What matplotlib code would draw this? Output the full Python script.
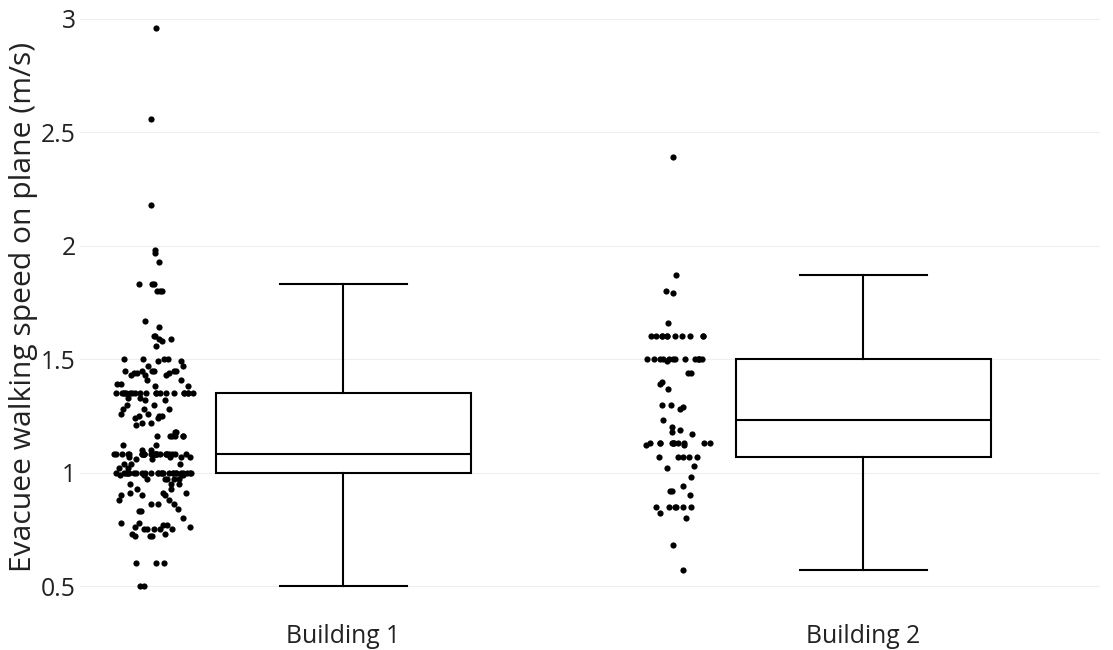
import numpy as np
import matplotlib.pyplot as plt

plt.rcParams['font.family'] = ['Open Sans', 'DejaVu Sans']

buildings = ['Building 1', 'Building 2']

# walking speeds (m/s) and how many evacuees recorded each speed
b1_speeds = [2.96, 2.56, 2.18, 1.98, 1.97, 1.93, 1.83, 1.80,
             1.67, 1.64, 1.60, 1.59, 1.58, 1.56, 1.50, 1.49, 1.47,
             1.45, 1.44, 1.43, 1.41, 1.39, 1.38, 1.35,
             1.33, 1.32, 1.30, 1.28, 1.26, 1.25, 1.24, 1.22, 1.21,
             1.18, 1.16, 1.12, 1.10, 1.08, 1.07, 1.06, 1.04, 1.02, 1.00,
             0.99, 0.97, 0.95, 0.93, 0.91, 0.90, 0.88, 0.86, 0.84, 0.83,
             0.80, 0.78, 0.77, 0.76, 0.75, 0.73, 0.72, 0.60, 0.50]
b1_counts = [1, 1, 1, 1, 1, 1, 3, 3,
             1, 1, 2, 2, 1, 1, 4, 2, 2,
             6, 3, 3, 2, 2, 2, 20,
             2, 2, 2, 3, 2, 3, 2, 2, 1,
             2, 6, 2, 2, 26, 4, 2, 3, 2, 26,
             4, 5, 3, 2, 3, 3, 2, 3, 1, 2,
             1, 2, 2, 2, 5, 2, 3, 3, 2]

b2_speeds = [2.39, 1.87, 1.80, 1.79, 1.66, 1.60, 1.50, 1.49, 1.44, 1.40,
             1.39, 1.37, 1.30, 1.29, 1.28, 1.23, 1.20, 1.19, 1.18, 1.17,
             1.13, 1.12, 1.07, 1.03, 1.02, 0.98, 0.94, 0.92, 0.90, 0.85,
             0.82, 0.80, 0.68, 0.57]
b2_counts = [1, 1, 1, 1, 1, 11, 13, 1, 2, 1,
             1, 1, 2, 1, 1, 1, 1, 1, 1, 1,
             11, 2, 5, 1, 1, 1, 1, 2, 1, 6,
             1, 1, 1, 1]

yticks = [0.5, 1, 1.5, 2, 2.5, 3]
ytick_labels = ['0.5', '1', '1.5', '2', '2.5', '3']

data = [np.repeat(b1_speeds, b1_counts), np.repeat(b2_speeds, b2_counts)]


def box_stats(v, label):
    q1, med, q3 = np.percentile(v, [25, 50, 75])
    iqr = q3 - q1
    hi = v[v <= q3 + 1.5 * iqr].max()
    lo = v[v >= q1 - 1.5 * iqr].min()
    return dict(label=label, q1=q1, med=med, q3=q3, whislo=lo, whishi=hi, fliers=[])


def jitter(v, spread, seed):
    # wider scatter where points are dense, narrow where they're sparse
    order = np.argsort(v)
    s = v[order]
    n = len(s)
    min_span = (s[-1] - s[0]) * 0.01
    dens = np.empty(n)
    for i in range(n):
        lo, hi = max(0, i - 5), min(n - 1, i + 5)
        dens[i] = (hi - lo) / max(s[hi] - s[lo], min_span)
    f = np.minimum(1.0, 1.6 * np.sqrt(dens / dens.max()))
    rng = np.random.default_rng(seed)
    out = np.empty(n)
    out[order] = f * spread * rng.uniform(-1, 1, n)
    return out


W, H = 1113, 650
fig = plt.figure(figsize=(W / 100, H / 100), dpi=100)
ax = fig.add_axes([80 / W, (H - 614) / H, 1020 / W, 614 / H])

positions = [0, 1]
stats = [box_stats(v, b) for v, b in zip(data, buildings)]
ax.bxp(stats, positions=positions, widths=0.49, capwidths=0.245,
       showfliers=False, patch_artist=True,
       boxprops=dict(facecolor='white', edgecolor='black', linewidth=1.5),
       whiskerprops=dict(color='black', linewidth=1.5),
       capprops=dict(color='black', linewidth=1.5),
       medianprops=dict(color='black', linewidth=1.5), zorder=3)

for k, (pos, v) in enumerate(zip(positions, data)):
    xs = pos - 0.367 + jitter(v, 0.078, k + 3)
    ax.scatter(xs, v, s=20, color='black', linewidths=0, zorder=4)

ax.set_xlim(-0.5067, 1.4548)
ax.set_ylim(0.377, 3.083)
ax.set_xticks(positions)
ax.set_xticklabels(buildings)
ax.set_yticks(yticks)
ax.set_yticklabels(ytick_labels)
ax.tick_params(axis='both', length=0, labelsize=17.8, colors='#222222')
ax.tick_params(axis='y', pad=3)
ax.tick_params(axis='x', pad=7)
ax.set_ylabel('Evacuee walking speed on plane (m/s)', fontsize=21.6, color='#222222')
ax.yaxis.label.set_verticalalignment('center')
ax.yaxis.set_label_coords(-(80 - 24) / 1020, 0.5)
ax.grid(axis='y', color='#ebf0f8', linewidth=0.8)
ax.set_axisbelow(True)
for sp in ax.spines.values():
    sp.set_visible(False)

fig.savefig('out.png', dpi=100)
